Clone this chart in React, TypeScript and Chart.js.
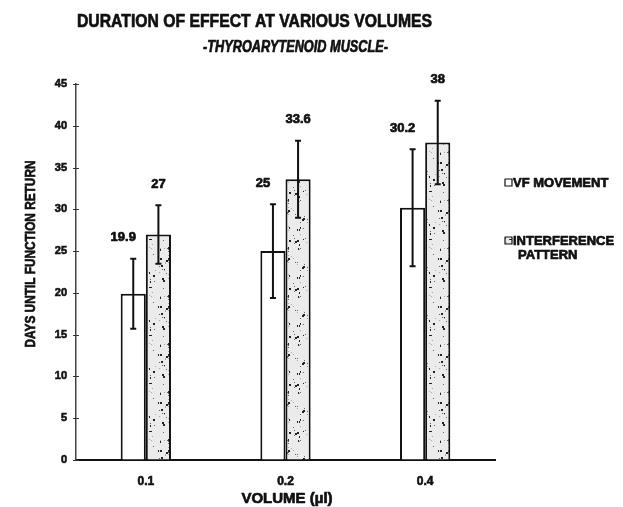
import React, { useEffect, useRef } from "react";
import { Chart, registerables } from "chart.js";

Chart.register(...registerables);

const categories = ["0.1", "0.2", "0.4"];
const vfMovement = [19.9, 25, 30.2];
const vfError = [4.2, 5.6, 7.0];
const interference = [27, 33.6, 38];
const interferenceError = [3.5, 4.6, 5.0];
const yTicks = [0, 5, 10, 15, 20, 25, 30, 35, 40, 45];
const seriesNames = ["VF MOVEMENT", "INTERFERENCE PATTERN"];

const FONT = "'Liberation Sans', Arial, sans-serif";

function makeStipple(): CanvasPattern | string {
  const W = 40;
  const H = 48;
  const c = document.createElement("canvas");
  c.width = W;
  c.height = H;
  const g = c.getContext("2d");
  if (!g) return "#e6e6e6";
  g.fillStyle = "#ebebeb";
  g.fillRect(0, 0, W, H);
  // decorative speckle texture from an integer hash of the dot index
  for (let i = 1; i < 150; i++) {
    let h = Math.imul(i, 2654435761) >>> 0;
    h ^= h >>> 13;
    h = Math.imul(h, 1274126177) >>> 0;
    h ^= h >>> 16;
    const x = h % W;
    const y = (h >>> 10) % H;
    const k = (h >>> 20) % 6;
    g.fillStyle = k < 2 ? "#222" : k < 4 ? "#666" : "#aaa";
    const w = k === 0 ? 2 : 1;
    const hh = k === 1 || k === 0 ? 2 : 1;
    g.fillRect(x, y, w, hh);
  }
  const p = g.createPattern(c, "repeat");
  return p || "#e6e6e6";
}

function boldText(ctx: CanvasRenderingContext2D, t: string, x: number, y: number, w?: number) {
  ctx.lineWidth = 0.7;
  ctx.lineJoin = "round";
  if (w !== undefined) {
    ctx.fillText(t, x, y, w);
    ctx.strokeText(t, x, y, w);
  } else {
    ctx.fillText(t, x, y);
    ctx.strokeText(t, x, y);
  }
}

const decorPlugin = {
  id: "decor",
  afterDatasetsDraw(chart: any) {
    const ctx = chart.ctx as CanvasRenderingContext2D;
    const yScale = chart.scales.y;
    const left = chart.chartArea.left;
    ctx.save();
    // y-axis cross ticks
    ctx.strokeStyle = "#333";
    ctx.lineWidth = 1.2;
    ctx.beginPath();
    yTicks.forEach((v) => {
      const y = Math.round(yScale.getPixelForValue(v)) + 0.5;
      ctx.moveTo(left - 3, y);
      ctx.lineTo(left + 3, y);
    });
    ctx.stroke();
    // error bars + labels
    const errs = [vfError, interferenceError];
    const vals = [vfMovement, interference];
    for (let d = 0; d < 2; d++) {
      const meta = chart.getDatasetMeta(d);
      meta.data.forEach((bar: any, i: number) => {
        const v = vals[d][i];
        const e = errs[d][i];
        const x = bar.x;
        const yTop = yScale.getPixelForValue(v + e);
        const yBot = yScale.getPixelForValue(v - e);
        ctx.strokeStyle = "#111";
        ctx.lineWidth = 2;
        ctx.beginPath();
        ctx.moveTo(x, yTop);
        ctx.lineTo(x, yBot);
        ctx.moveTo(x - 3, yTop);
        ctx.lineTo(x + 3, yTop);
        ctx.moveTo(x - 3, yBot);
        ctx.lineTo(x + 3, yBot);
        ctx.stroke();
        ctx.fillStyle = "#111";
        ctx.font = `bold 13px ${FONT}`;
        ctx.textAlign = "center";
        ctx.textBaseline = "middle";
        const dx = d === 0 ? -10 : 0;
        boldText(ctx, String(v), x + dx, yTop - 21);
      });
    }
    // titles
    ctx.fillStyle = "#111";
    ctx.strokeStyle = "#111";
    ctx.textAlign = "left";
    ctx.textBaseline = "alphabetic";
    ctx.font = `bold 19px ${FONT}`;
    boldText(ctx, "DURATION OF EFFECT AT VARIOUS VOLUMES", 77, 27, 355);
    ctx.font = `italic bold 16px ${FONT}`;
    boldText(ctx, "-THYROARYTENOID MUSCLE-", 203, 52, 185);
    // x title
    ctx.textAlign = "center";
    ctx.font = `bold 15px ${FONT}`;
    boldText(ctx, "VOLUME (\u00b5l)", 287, 503, 95);
    // y title
    ctx.save();
    ctx.translate(31, 254);
    ctx.rotate(-Math.PI / 2);
    ctx.font = `bold 15px ${FONT}`;
    ctx.textBaseline = "middle";
    boldText(ctx, "DAYS UNTIL FUNCTION RETURN", 0, 0, 187);
    ctx.restore();
    // legend
    const ds = chart.data.datasets;
    ctx.lineWidth = 1.2;
    ctx.strokeStyle = "#111";
    ctx.fillStyle = ds[0].backgroundColor;
    ctx.fillRect(505, 179, 7, 7);
    ctx.strokeRect(505, 179, 7, 7);
    ctx.fillStyle = ds[1].backgroundColor;
    ctx.fillRect(505, 237, 7, 7);
    ctx.strokeRect(505, 237, 7, 7);
    ctx.fillStyle = "#111";
    ctx.textAlign = "left";
    ctx.textBaseline = "alphabetic";
    ctx.font = `bold 13px ${FONT}`;
    boldText(ctx, seriesNames[0], 513, 187, 100);
    const words = seriesNames[1].split(" ");
    boldText(ctx, words[0], 513, 245, 108);
    boldText(ctx, words[1], 518, 259, 62);
    ctx.restore();
  },
};

export default function App() {
  const ref = useRef<HTMLCanvasElement>(null);
  useEffect(() => {
    document.body.style.margin = "0";
    if (!ref.current) return;
    const stipple = makeStipple();
    const chart = new Chart(ref.current, {
      type: "bar",
      data: {
        labels: categories,
        datasets: [
          {
            label: seriesNames[0],
            data: vfMovement,
            backgroundColor: "#ffffff",
            borderColor: "#111",
            borderWidth: 2,
          },
          {
            label: seriesNames[1],
            data: interference,
            backgroundColor: stipple as any,
            borderColor: "#111",
            borderWidth: 2,
          },
        ],
      },
      options: {
        responsive: false,
        animation: false,
        layout: { padding: { top: 84, right: 128, bottom: 0, left: 0 } },
        datasets: {
          bar: { barPercentage: 1, categoryPercentage: 0.36 },
        },
        plugins: {
          legend: { display: false },
          title: { display: false },
          tooltip: { enabled: false },
        },
        scales: {
          x: {
            afterFit: (s: any) => {
              s.height = 47;
            },
            grid: { display: false, drawTicks: false },
            border: { display: true, color: "#111", width: 2 },
            ticks: {
              color: "#111",
              padding: 14,
              textStrokeColor: "#111",
              textStrokeWidth: 0.6,
              font: { family: FONT, size: 12, weight: "bold" },
            },
          },
          y: {
            min: 0,
            max: 45,
            afterFit: (s: any) => {
              s.width = 76;
            },
            afterBuildTicks: (s: any) => {
              s.ticks = yTicks.map((v) => ({ value: v }));
            },
            grid: {
              drawOnChartArea: false,
              drawTicks: false,
            },
            border: { display: true, color: "#444", width: 1.5, dash: [2, 1] },
            ticks: {
              color: "#111",
              padding: 9,
              textStrokeColor: "#111",
              textStrokeWidth: 0.6,
              font: { family: FONT, size: 11, weight: "bold" },
            },
          },
        },
      },
      plugins: [decorPlugin],
    });
    return () => chart.destroy();
  }, []);
  return (
    <div style={{ width: 623, height: 507 }}>
      <canvas ref={ref} width={623} height={507} style={{ display: "block" }} />
    </div>
  );
}
